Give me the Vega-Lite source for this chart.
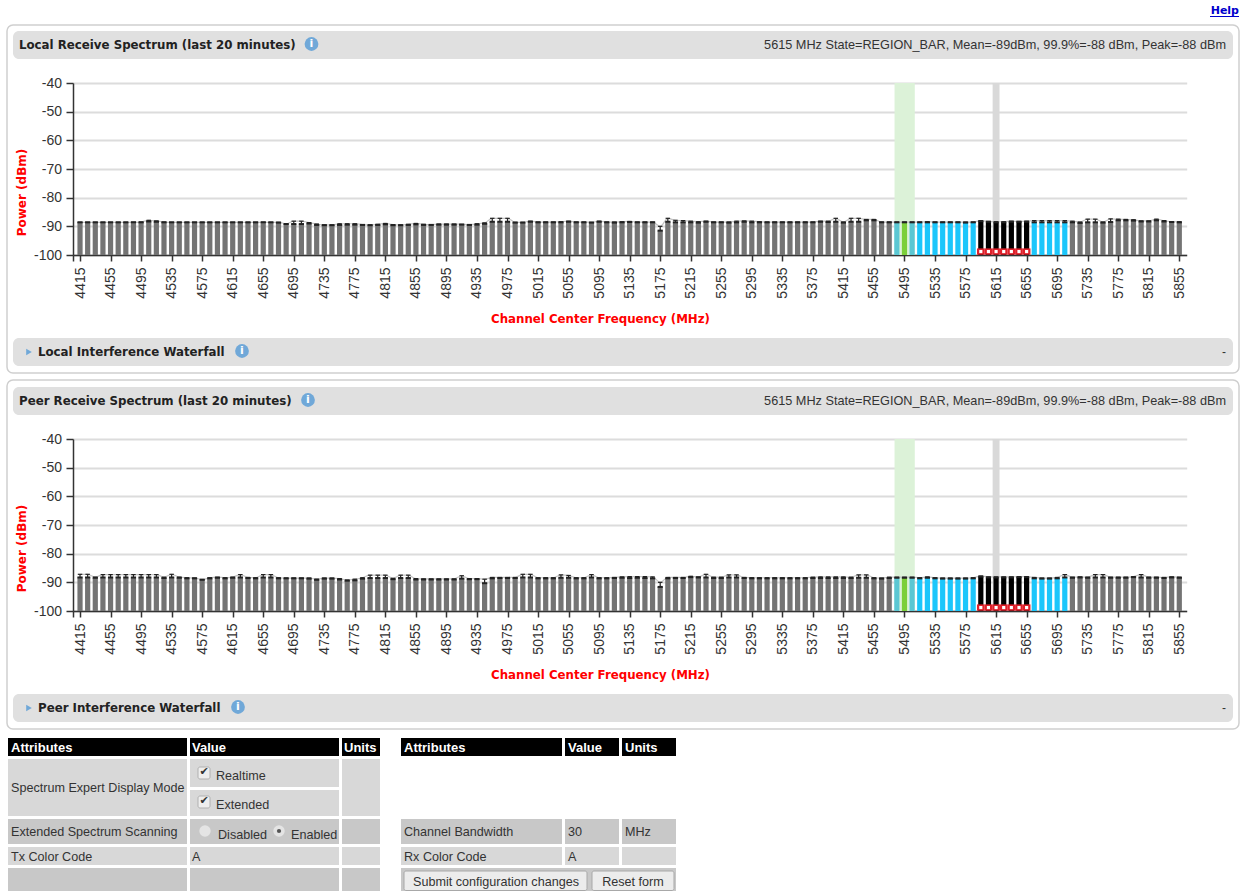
{"$schema":"https://vega.github.io/schema/vega-lite/v6.json","padding":{"left":6,"top":0,"right":2,"bottom":0},"background":"white","spacing":5,
"config":{"view":{"stroke":null},"concat":{"spacing":5}},
"datasets":{
"local":[{"f":4415,"m":-88.6,"p":-88.6},{"f":4425,"m":-88.6,"p":-88.6},{"f":4435,"m":-88.6,"p":-88.6},{"f":4445,"m":-88.6,"p":-88.6},{"f":4455,"m":-88.6,"p":-88.6},{"f":4465,"m":-88.6,"p":-88.6},{"f":4475,"m":-88.6,"p":-88.6},{"f":4485,"m":-88.6,"p":-88.6},{"f":4495,"m":-88.6,"p":-88.5},{"f":4505,"m":-88.3,"p":-87.9},{"f":4515,"m":-88.4,"p":-88.1},{"f":4525,"m":-88.6,"p":-88.5},{"f":4535,"m":-88.6,"p":-88.6},{"f":4545,"m":-88.6,"p":-88.6},{"f":4555,"m":-88.6,"p":-88.6},{"f":4565,"m":-88.6,"p":-88.6},{"f":4575,"m":-88.6,"p":-88.6},{"f":4585,"m":-88.6,"p":-88.6},{"f":4595,"m":-88.6,"p":-88.6},{"f":4605,"m":-88.6,"p":-88.6},{"f":4615,"m":-88.6,"p":-88.6},{"f":4625,"m":-88.6,"p":-88.6},{"f":4635,"m":-88.6,"p":-88.6},{"f":4645,"m":-88.6,"p":-88.6},{"f":4655,"m":-88.6,"p":-88.6},{"f":4665,"m":-88.6,"p":-88.6},{"f":4675,"m":-88.7,"p":-88.6},{"f":4685,"m":-89.2,"p":-89.1},{"f":4695,"m":-89.2,"p":-88.2},{"f":4705,"m":-89.2,"p":-88.2},{"f":4715,"m":-89,"p":-88.7},{"f":4725,"m":-89.5,"p":-89.2},{"f":4735,"m":-89.6,"p":-89.5},{"f":4745,"m":-89.6,"p":-89.5},{"f":4755,"m":-89.5,"p":-89.1},{"f":4765,"m":-89.4,"p":-89.1},{"f":4775,"m":-89.4,"p":-89.1},{"f":4785,"m":-89.5,"p":-89.4},{"f":4795,"m":-89.6,"p":-89.5},{"f":4805,"m":-89.5,"p":-89.3},{"f":4815,"m":-89.3,"p":-89},{"f":4825,"m":-89.6,"p":-89.4},{"f":4835,"m":-89.6,"p":-89.5},{"f":4845,"m":-89.5,"p":-89.3},{"f":4855,"m":-89.3,"p":-89},{"f":4865,"m":-89.5,"p":-89.3},{"f":4875,"m":-89.5,"p":-89.4},{"f":4885,"m":-89.4,"p":-89.2},{"f":4895,"m":-89.4,"p":-89.2},{"f":4905,"m":-89.4,"p":-89.2},{"f":4915,"m":-89.4,"p":-89.3},{"f":4925,"m":-89.5,"p":-89.4},{"f":4935,"m":-89.4,"p":-89.1},{"f":4945,"m":-89.1,"p":-88.8},{"f":4955,"m":-88.4,"p":-87.2},{"f":4965,"m":-88.4,"p":-87.2},{"f":4975,"m":-88.4,"p":-87.2},{"f":4985,"m":-88.7,"p":-88.6},{"f":4995,"m":-88.7,"p":-88.6},{"f":5005,"m":-88.4,"p":-88.2},{"f":5015,"m":-88.6,"p":-88.5},{"f":5025,"m":-88.6,"p":-88.5},{"f":5035,"m":-88.6,"p":-88.5},{"f":5045,"m":-88.6,"p":-88.4},{"f":5055,"m":-88.4,"p":-88.2},{"f":5065,"m":-88.6,"p":-88.5},{"f":5075,"m":-88.6,"p":-88.5},{"f":5085,"m":-88.7,"p":-88.6},{"f":5095,"m":-88.4,"p":-88.2},{"f":5105,"m":-88.6,"p":-88.5},{"f":5115,"m":-88.7,"p":-88.5},{"f":5125,"m":-88.6,"p":-88.4},{"f":5135,"m":-88.5,"p":-88.3},{"f":5145,"m":-88.6,"p":-88.5},{"f":5155,"m":-88.6,"p":-88.5},{"f":5165,"m":-88.6,"p":-88.5},{"f":5175,"m":-91.5,"p":-90},{"f":5185,"m":-88.4,"p":-87.2},{"f":5195,"m":-88.6,"p":-87.9},{"f":5205,"m":-88.6,"p":-88},{"f":5215,"m":-88.6,"p":-88.2},{"f":5225,"m":-88.7,"p":-88.4},{"f":5235,"m":-88.4,"p":-88.2},{"f":5245,"m":-88.6,"p":-88.5},{"f":5255,"m":-88.6,"p":-88.5},{"f":5265,"m":-88.7,"p":-88.5},{"f":5275,"m":-88.6,"p":-88.2},{"f":5285,"m":-88.4,"p":-88.1},{"f":5295,"m":-88.6,"p":-88.2},{"f":5305,"m":-88.6,"p":-88.4},{"f":5315,"m":-88.6,"p":-88.5},{"f":5325,"m":-88.6,"p":-88.5},{"f":5335,"m":-88.6,"p":-88.5},{"f":5345,"m":-88.6,"p":-88.5},{"f":5355,"m":-88.6,"p":-88.5},{"f":5365,"m":-88.6,"p":-88.5},{"f":5375,"m":-88.6,"p":-88.5},{"f":5385,"m":-88.4,"p":-88.2},{"f":5395,"m":-88.5,"p":-88.2},{"f":5405,"m":-88.4,"p":-87.2},{"f":5415,"m":-88.7,"p":-88.5},{"f":5425,"m":-88.4,"p":-87.2},{"f":5435,"m":-88.4,"p":-87.2},{"f":5445,"m":-87.9,"p":-87.6},{"f":5455,"m":-87.9,"p":-87.6},{"f":5465,"m":-88.6,"p":-88.5},{"f":5475,"m":-88.6,"p":-88.5},{"f":5485,"m":-88.6,"p":-88.5},{"f":5495,"m":-88.6,"p":-88.5},{"f":5505,"m":-88.6,"p":-88.5},{"f":5515,"m":-88.6,"p":-88.5},{"f":5525,"m":-88.6,"p":-88.4},{"f":5535,"m":-88.6,"p":-88.5},{"f":5545,"m":-88.6,"p":-88.5},{"f":5555,"m":-88.6,"p":-88.5},{"f":5565,"m":-88.6,"p":-88.5},{"f":5575,"m":-88.7,"p":-88.5},{"f":5585,"m":-88.6,"p":-88.5},{"f":5595,"m":-88.2,"p":-88},{"f":5605,"m":-88.4,"p":-88.3},{"f":5615,"m":-88.6,"p":-88.4},{"f":5625,"m":-88.6,"p":-88.4},{"f":5635,"m":-88.4,"p":-88.2},{"f":5645,"m":-88.4,"p":-88.3},{"f":5655,"m":-88.4,"p":-88.2},{"f":5665,"m":-88.6,"p":-88},{"f":5675,"m":-88.6,"p":-88},{"f":5685,"m":-88.6,"p":-88},{"f":5695,"m":-88.6,"p":-88},{"f":5705,"m":-88.6,"p":-88},{"f":5715,"m":-88.6,"p":-88.2},{"f":5725,"m":-88.8,"p":-88.5},{"f":5735,"m":-88.6,"p":-87.5},{"f":5745,"m":-88.6,"p":-87.5},{"f":5755,"m":-88.7,"p":-88.5},{"f":5765,"m":-88.5,"p":-87.4},{"f":5775,"m":-87.9,"p":-87.5},{"f":5785,"m":-87.9,"p":-87.6},{"f":5795,"m":-88,"p":-87.7},{"f":5805,"m":-88.3,"p":-88.1},{"f":5815,"m":-88.3,"p":-88.1},{"f":5825,"m":-87.9,"p":-87.5},{"f":5835,"m":-88.3,"p":-88},{"f":5845,"m":-88.5,"p":-88.4},{"f":5855,"m":-88.6,"p":-88.4}],
"peer":[{"f":4415,"m":-88.3,"p":-87.2},{"f":4425,"m":-88.3,"p":-87.2},{"f":4435,"m":-88.4,"p":-88.2},{"f":4445,"m":-88.3,"p":-87.3},{"f":4455,"m":-88.3,"p":-87.3},{"f":4465,"m":-88.3,"p":-87.3},{"f":4475,"m":-88.3,"p":-87.3},{"f":4485,"m":-88.3,"p":-87.3},{"f":4495,"m":-88.3,"p":-87.3},{"f":4505,"m":-88.3,"p":-87.3},{"f":4515,"m":-88.3,"p":-87.3},{"f":4525,"m":-88.5,"p":-88.2},{"f":4535,"m":-88.3,"p":-87.2},{"f":4545,"m":-88.4,"p":-88.2},{"f":4555,"m":-88.6,"p":-88.4},{"f":4565,"m":-88.6,"p":-88.5},{"f":4575,"m":-89.1,"p":-89},{"f":4585,"m":-88.6,"p":-88.4},{"f":4595,"m":-88.4,"p":-88.2},{"f":4605,"m":-88.6,"p":-88.4},{"f":4615,"m":-88.4,"p":-88.2},{"f":4625,"m":-88.3,"p":-87.3},{"f":4635,"m":-88.5,"p":-88.3},{"f":4645,"m":-88.6,"p":-88.4},{"f":4655,"m":-88.3,"p":-87.3},{"f":4665,"m":-88.3,"p":-87.3},{"f":4675,"m":-88.6,"p":-88.4},{"f":4685,"m":-88.6,"p":-88.5},{"f":4695,"m":-88.6,"p":-88.5},{"f":4705,"m":-88.6,"p":-88.5},{"f":4715,"m":-88.7,"p":-88.5},{"f":4725,"m":-89.1,"p":-88.9},{"f":4735,"m":-88.7,"p":-88.5},{"f":4745,"m":-88.7,"p":-88.5},{"f":4755,"m":-89,"p":-88.7},{"f":4765,"m":-89.4,"p":-89.2},{"f":4775,"m":-89.3,"p":-88.9},{"f":4785,"m":-88.7,"p":-88.4},{"f":4795,"m":-88.5,"p":-87.5},{"f":4805,"m":-88.5,"p":-87.5},{"f":4815,"m":-88.5,"p":-87.5},{"f":4825,"m":-88.9,"p":-88.6},{"f":4835,"m":-88.5,"p":-87.5},{"f":4845,"m":-88.5,"p":-87.5},{"f":4855,"m":-89,"p":-88.7},{"f":4865,"m":-89,"p":-88.8},{"f":4875,"m":-89,"p":-88.8},{"f":4885,"m":-89,"p":-88.8},{"f":4895,"m":-89,"p":-88.8},{"f":4905,"m":-89,"p":-88.8},{"f":4915,"m":-88.7,"p":-87.7},{"f":4925,"m":-88.9,"p":-88.7},{"f":4935,"m":-88.9,"p":-88.7},{"f":4945,"m":-90.3,"p":-88.9},{"f":4955,"m":-88.6,"p":-88.3},{"f":4965,"m":-88.5,"p":-88.3},{"f":4975,"m":-88.5,"p":-88.3},{"f":4985,"m":-88.5,"p":-88.3},{"f":4995,"m":-88.3,"p":-87.2},{"f":5005,"m":-88.3,"p":-87.2},{"f":5015,"m":-88.6,"p":-88.4},{"f":5025,"m":-88.6,"p":-88.4},{"f":5035,"m":-88.6,"p":-88.4},{"f":5045,"m":-88.4,"p":-87.4},{"f":5055,"m":-88.4,"p":-87.6},{"f":5065,"m":-88.6,"p":-88.4},{"f":5075,"m":-88.6,"p":-88.4},{"f":5085,"m":-88.3,"p":-87.3},{"f":5095,"m":-88.6,"p":-88.4},{"f":5105,"m":-88.6,"p":-88.4},{"f":5115,"m":-88.5,"p":-88.3},{"f":5125,"m":-88.4,"p":-88.1},{"f":5135,"m":-88.5,"p":-88},{"f":5145,"m":-88.4,"p":-88},{"f":5155,"m":-88.5,"p":-88},{"f":5165,"m":-88.6,"p":-88.1},{"f":5175,"m":-91.6,"p":-90},{"f":5185,"m":-88.6,"p":-88.3},{"f":5195,"m":-88.5,"p":-88.3},{"f":5205,"m":-88.5,"p":-88.3},{"f":5215,"m":-88.2,"p":-87.9},{"f":5225,"m":-88.3,"p":-88.1},{"f":5235,"m":-88.3,"p":-87.2},{"f":5245,"m":-88.5,"p":-88.2},{"f":5255,"m":-88.5,"p":-88.2},{"f":5265,"m":-88.3,"p":-87.4},{"f":5275,"m":-88.3,"p":-87.4},{"f":5285,"m":-88.5,"p":-88.3},{"f":5295,"m":-88.6,"p":-88.4},{"f":5305,"m":-88.6,"p":-88.4},{"f":5315,"m":-88.6,"p":-88.4},{"f":5325,"m":-88.6,"p":-88.4},{"f":5335,"m":-88.6,"p":-88.4},{"f":5345,"m":-88.6,"p":-88.4},{"f":5355,"m":-88.6,"p":-88.4},{"f":5365,"m":-88.6,"p":-88.4},{"f":5375,"m":-88.5,"p":-88.2},{"f":5385,"m":-88.5,"p":-88.1},{"f":5395,"m":-88.5,"p":-88.1},{"f":5405,"m":-88.5,"p":-88.1},{"f":5415,"m":-88.5,"p":-88.1},{"f":5425,"m":-88.5,"p":-88.2},{"f":5435,"m":-88.4,"p":-87.4},{"f":5445,"m":-88.4,"p":-87.4},{"f":5455,"m":-88.6,"p":-88.4},{"f":5465,"m":-88.7,"p":-88.5},{"f":5475,"m":-88.5,"p":-88.2},{"f":5485,"m":-88.4,"p":-88.2},{"f":5495,"m":-88.4,"p":-88.2},{"f":5505,"m":-88.4,"p":-88.2},{"f":5515,"m":-88.6,"p":-88.4},{"f":5525,"m":-88.4,"p":-88.1},{"f":5535,"m":-88.6,"p":-88.4},{"f":5545,"m":-88.7,"p":-88.5},{"f":5555,"m":-88.7,"p":-88.5},{"f":5565,"m":-88.7,"p":-88.5},{"f":5575,"m":-88.7,"p":-88.5},{"f":5585,"m":-88.6,"p":-88.4},{"f":5595,"m":-88,"p":-87.8},{"f":5605,"m":-88.3,"p":-88.1},{"f":5615,"m":-88.3,"p":-88.1},{"f":5625,"m":-88.3,"p":-88.1},{"f":5635,"m":-88.3,"p":-88.1},{"f":5645,"m":-88.2,"p":-88},{"f":5655,"m":-88.2,"p":-88},{"f":5665,"m":-88.6,"p":-88.3},{"f":5675,"m":-88.7,"p":-88.5},{"f":5685,"m":-88.7,"p":-88.5},{"f":5695,"m":-88.6,"p":-88.3},{"f":5705,"m":-88.3,"p":-87.3},{"f":5715,"m":-88.4,"p":-88.2},{"f":5725,"m":-88.3,"p":-88.1},{"f":5735,"m":-88.4,"p":-88.2},{"f":5745,"m":-88.3,"p":-87.3},{"f":5755,"m":-88.3,"p":-87.3},{"f":5765,"m":-88.4,"p":-88.2},{"f":5775,"m":-88.4,"p":-88.2},{"f":5785,"m":-88.4,"p":-88.2},{"f":5795,"m":-88.2,"p":-88},{"f":5805,"m":-88.3,"p":-87.3},{"f":5815,"m":-88.4,"p":-88.2},{"f":5825,"m":-88.4,"p":-88.2},{"f":5835,"m":-88.5,"p":-88.3},{"f":5845,"m":-88.3,"p":-88.1},{"f":5855,"m":-88.4,"p":-88.2}]},
"vconcat":[
{"width":1232,"height":19,"data":{"values":[{}]},"layer":[
{"mark":{"type":"text","text":"Help","align":"right","baseline":"middle","font":"DejaVu Sans","fontWeight":"bold","fontSize":11,"fill":"#0000cc"},"encoding":{"x":{"datum":1239,"type":"quantitative","axis":null,"scale":{"domain":[7,1239],"range":[0,1232],"nice":false,"zero":false}},"y":{"datum":11,"type":"quantitative","axis":null,"scale":{"domain":[0,19],"range":[0,19],"nice":false,"zero":false}}}},
{"mark":{"type":"rule","color":"#0000cc","strokeWidth":1},"encoding":{"x":{"datum":1210,"type":"quantitative","axis":null},"x2":{"datum":1239},"y":{"datum":16.5,"type":"quantitative","axis":null}}}
]},
{"width":1232,"height":348,"view":{"stroke":"#cfcfcf","cornerRadius":6,"strokeWidth":1.5},"resolve":{"scale":{"x":"independent","y":"independent"}},"layer":[
{"data":{"values":[{}]},"layer":[
{"mark":{"type":"rect","fill":"#e0e0e0","cornerRadius":6},"encoding":{"x":{"datum":13,"type":"quantitative","axis":null,"scale":{"domain":[7,1239],"range":[0,1232],"nice":false,"zero":false}},"x2":{"datum":1233},"y":{"datum":31,"type":"quantitative","axis":null,"scale":{"domain":[25,373],"range":[0,348],"nice":false,"zero":false}},"y2":{"datum":59}}},
{"mark":{"type":"rect","fill":"#e0e0e0","cornerRadius":6},"encoding":{"x":{"datum":13,"type":"quantitative","axis":null},"x2":{"datum":1233},"y":{"datum":338,"type":"quantitative","axis":null},"y2":{"datum":366}}},
{"mark":{"type":"text","text":"Local Receive Spectrum (last 20 minutes)","align":"left","baseline":"middle","font":"DejaVu Sans","fontWeight":"bold","fontSize":11.8,"fill":"#222222"},"encoding":{"x":{"datum":19,"type":"quantitative","axis":null},"y":{"datum":45,"type":"quantitative","axis":null}}},
{"mark":{"type":"text","text":"5615 MHz State=REGION_BAR, Mean=-89dBm, 99.9%=-88 dBm, Peak=-88 dBm","align":"right","baseline":"middle","font":"Liberation Sans","fontSize":12.7,"fill":"#333333"},"encoding":{"x":{"datum":1226,"type":"quantitative","axis":null},"y":{"datum":45,"type":"quantitative","axis":null}}},
{"mark":{"type":"point","shape":"circle","filled":true,"size":190,"color":"#70a8d8","opacity":1},"encoding":{"x":{"datum":311.5,"type":"quantitative","axis":null},"y":{"datum":44,"type":"quantitative","axis":null}}},
{"mark":{"type":"text","text":"i","align":"center","baseline":"middle","font":"DejaVu Sans","fontWeight":"bold","fontSize":11,"fill":"white"},"encoding":{"x":{"datum":311.5,"type":"quantitative","axis":null},"y":{"datum":44,"type":"quantitative","axis":null}}},
{"mark":{"type":"point","shape":"triangle-right","filled":true,"size":42,"color":"#70a8d8","opacity":1},"encoding":{"x":{"datum":29,"type":"quantitative","axis":null},"y":{"datum":352,"type":"quantitative","axis":null}}},
{"mark":{"type":"text","text":"Local Interference Waterfall","align":"left","baseline":"middle","font":"DejaVu Sans","fontWeight":"bold","fontSize":11.8,"fill":"#222222"},"encoding":{"x":{"datum":38,"type":"quantitative","axis":null},"y":{"datum":352,"type":"quantitative","axis":null}}},
{"mark":{"type":"point","shape":"circle","filled":true,"size":190,"color":"#70a8d8","opacity":1},"encoding":{"x":{"datum":242,"type":"quantitative","axis":null},"y":{"datum":351,"type":"quantitative","axis":null}}},
{"mark":{"type":"text","text":"i","align":"center","baseline":"middle","font":"DejaVu Sans","fontWeight":"bold","fontSize":11,"fill":"white"},"encoding":{"x":{"datum":242,"type":"quantitative","axis":null},"y":{"datum":351,"type":"quantitative","axis":null}}},
{"mark":{"type":"text","text":"-","align":"right","baseline":"middle","font":"Liberation Sans","fontSize":12,"fill":"#333333"},"encoding":{"x":{"datum":1226,"type":"quantitative","axis":null},"y":{"datum":352,"type":"quantitative","axis":null}}}
]},
{"data":{"name":"local"},"encoding":{"x":{"field":"f","type":"quantitative","scale":{"domain":[4405.8,5864.7],"range":[66,1179.7],"padding":0},"axis":{"values":[4405.8,4415,4455,4495,4535,4575,4615,4655,4695,4735,4775,4815,4855,4895,4935,4975,5015,5055,5095,5135,5175,5215,5255,5295,5335,5375,5415,5455,5495,5535,5575,5615,5655,5695,5735,5775,5815,5855],"labelExpr":"datum.value<4410?'':''+datum.value","offset":-118,"labelAngle":-90,"labelAlign":"right","labelBaseline":"middle","labelOverlap":false,"labelFlush":false,"labelFont":"Liberation Sans","labelFontSize":14,"labelColor":"#333333","labelPadding":6,"tickSize":6,"tickColor":"#333333","tickWidth":1.5,"domainColor":"#333333","domainWidth":1.5,"grid":false,"title":"Channel Center Frequency (MHz)","titleColor":"#ff0000","titleFont":"DejaVu Sans","titleFontWeight":"bold","titleFontSize":11.8,"titleX":593,"titleY":63,"titleAlign":"center","titleBaseline":"middle"}},"y":{"field":"m","type":"quantitative","scale":{"domain":[-100,-40],"range":[230,58]},"axis":{"values":[-100,-90,-80,-70,-60,-50,-40],"labelExpr":"''+datum.value","offset":-66,"labelFont":"Liberation Sans","labelFontSize":14,"labelColor":"#333333","labelPadding":4.5,"tickSize":7,"tickColor":"#333333","tickWidth":1.5,"domainColor":"#333333","domainWidth":1.5,"grid":true,"gridColor":"#dcdcdc","gridWidth":2,"title":"Power (dBm)","titleColor":"#ff0000","titleFont":"DejaVu Sans","titleFontWeight":"bold","titleFontSize":12,"titleX":-52,"titleY":167,"titleAlign":"center","titleBaseline":"middle"}}},"layer":[
{"transform":[{"filter":"datum.f==5495"}],"mark":{"type":"rect","fill":"#dcf2d8"},"encoding":{"x":{"datum":5482,"type":"quantitative"},"x2":{"datum":5508.5},"y":{"datum":-40,"type":"quantitative"},"y2":{"datum":-100}}},
{"transform":[{"filter":"datum.f==5615"}],"mark":{"type":"rect","fill":"#d9d9d9"},"encoding":{"x":{"datum":5610.5,"type":"quantitative"},"x2":{"datum":5619.5},"y":{"datum":-40,"type":"quantitative"},"y2":{"datum":-100}}},
{"mark":{"type":"line","color":"#c4c4c4","strokeWidth":1.2,"interpolate":"monotone"},"encoding":{"y":{"field":"p","type":"quantitative"}}},
{"mark":{"type":"bar","width":5.2},"encoding":{"y2":{"datum":-100},"color":{"field":"f","type":"quantitative","legend":null,"scale":{"type":"threshold","domain":[5480,5490,5500,5510,5590,5660,5710],"range":["#747474","#5bc7d3","#7ccf3a","#5bc7d3","#1cc6fb","#000000","#1cc6fb","#747474"]}}}},
{"transform":[{"filter":"datum.f>=5590&&datum.f<=5660"}],"mark":{"type":"bar","width":7.7,"color":"#e0202a"},"encoding":{"y":{"datum":-97.7,"type":"quantitative"},"y2":{"datum":-99.9}}},
{"transform":[{"filter":"datum.f>=5590&&datum.f<=5660"}],"mark":{"type":"point","shape":"square","filled":true,"size":10,"color":"white","opacity":1},"encoding":{"y":{"datum":-98.8,"type":"quantitative"}}},
{"mark":{"type":"rule","color":"#222222","strokeWidth":1.2},"encoding":{"y2":{"field":"p"}}},
{"mark":{"type":"tick","orient":"horizontal","size":4.5,"thickness":1.2,"color":"#222222","opacity":1},"encoding":{"y":{"field":"p","type":"quantitative"}}},
{"mark":{"type":"tick","orient":"horizontal","size":5.2,"thickness":2,"color":"#222222","opacity":1}}
]}]},
{"width":1232,"height":349,"view":{"stroke":"#cfcfcf","cornerRadius":6,"strokeWidth":1.5},"resolve":{"scale":{"x":"independent","y":"independent"}},"layer":[
{"data":{"values":[{}]},"layer":[
{"mark":{"type":"rect","fill":"#e0e0e0","cornerRadius":6},"encoding":{"x":{"datum":13,"type":"quantitative","axis":null,"scale":{"domain":[7,1239],"range":[0,1232],"nice":false,"zero":false}},"x2":{"datum":1233},"y":{"datum":387,"type":"quantitative","axis":null,"scale":{"domain":[380,729],"range":[0,349],"nice":false,"zero":false}},"y2":{"datum":415}}},
{"mark":{"type":"rect","fill":"#e0e0e0","cornerRadius":6},"encoding":{"x":{"datum":13,"type":"quantitative","axis":null},"x2":{"datum":1233},"y":{"datum":694,"type":"quantitative","axis":null},"y2":{"datum":722}}},
{"mark":{"type":"text","text":"Peer Receive Spectrum (last 20 minutes)","align":"left","baseline":"middle","font":"DejaVu Sans","fontWeight":"bold","fontSize":11.8,"fill":"#222222"},"encoding":{"x":{"datum":19,"type":"quantitative","axis":null},"y":{"datum":401,"type":"quantitative","axis":null}}},
{"mark":{"type":"text","text":"5615 MHz State=REGION_BAR, Mean=-89dBm, 99.9%=-88 dBm, Peak=-88 dBm","align":"right","baseline":"middle","font":"Liberation Sans","fontSize":12.7,"fill":"#333333"},"encoding":{"x":{"datum":1226,"type":"quantitative","axis":null},"y":{"datum":401,"type":"quantitative","axis":null}}},
{"mark":{"type":"point","shape":"circle","filled":true,"size":190,"color":"#70a8d8","opacity":1},"encoding":{"x":{"datum":308,"type":"quantitative","axis":null},"y":{"datum":400,"type":"quantitative","axis":null}}},
{"mark":{"type":"text","text":"i","align":"center","baseline":"middle","font":"DejaVu Sans","fontWeight":"bold","fontSize":11,"fill":"white"},"encoding":{"x":{"datum":308,"type":"quantitative","axis":null},"y":{"datum":400,"type":"quantitative","axis":null}}},
{"mark":{"type":"point","shape":"triangle-right","filled":true,"size":42,"color":"#70a8d8","opacity":1},"encoding":{"x":{"datum":29,"type":"quantitative","axis":null},"y":{"datum":708,"type":"quantitative","axis":null}}},
{"mark":{"type":"text","text":"Peer Interference Waterfall","align":"left","baseline":"middle","font":"DejaVu Sans","fontWeight":"bold","fontSize":11.8,"fill":"#222222"},"encoding":{"x":{"datum":38,"type":"quantitative","axis":null},"y":{"datum":708,"type":"quantitative","axis":null}}},
{"mark":{"type":"point","shape":"circle","filled":true,"size":190,"color":"#70a8d8","opacity":1},"encoding":{"x":{"datum":238,"type":"quantitative","axis":null},"y":{"datum":707,"type":"quantitative","axis":null}}},
{"mark":{"type":"text","text":"i","align":"center","baseline":"middle","font":"DejaVu Sans","fontWeight":"bold","fontSize":11,"fill":"white"},"encoding":{"x":{"datum":238,"type":"quantitative","axis":null},"y":{"datum":707,"type":"quantitative","axis":null}}},
{"mark":{"type":"text","text":"-","align":"right","baseline":"middle","font":"Liberation Sans","fontSize":12,"fill":"#333333"},"encoding":{"x":{"datum":1226,"type":"quantitative","axis":null},"y":{"datum":708,"type":"quantitative","axis":null}}}
]},
{"data":{"name":"peer"},"encoding":{"x":{"field":"f","type":"quantitative","scale":{"domain":[4405.8,5864.7],"range":[66,1179.7],"padding":0},"axis":{"values":[4405.8,4415,4455,4495,4535,4575,4615,4655,4695,4735,4775,4815,4855,4895,4935,4975,5015,5055,5095,5135,5175,5215,5255,5295,5335,5375,5415,5455,5495,5535,5575,5615,5655,5695,5735,5775,5815,5855],"labelExpr":"datum.value<4410?'':''+datum.value","offset":-118,"labelAngle":-90,"labelAlign":"right","labelBaseline":"middle","labelOverlap":false,"labelFlush":false,"labelFont":"Liberation Sans","labelFontSize":14,"labelColor":"#333333","labelPadding":6,"tickSize":6,"tickColor":"#333333","tickWidth":1.5,"domainColor":"#333333","domainWidth":1.5,"grid":false,"title":"Channel Center Frequency (MHz)","titleColor":"#ff0000","titleFont":"DejaVu Sans","titleFontWeight":"bold","titleFontSize":11.8,"titleX":593,"titleY":63,"titleAlign":"center","titleBaseline":"middle"}},"y":{"field":"m","type":"quantitative","scale":{"domain":[-100,-40],"range":[231,59]},"axis":{"values":[-100,-90,-80,-70,-60,-50,-40],"labelExpr":"''+datum.value","offset":-66,"labelFont":"Liberation Sans","labelFontSize":14,"labelColor":"#333333","labelPadding":4.5,"tickSize":7,"tickColor":"#333333","tickWidth":1.5,"domainColor":"#333333","domainWidth":1.5,"grid":true,"gridColor":"#dcdcdc","gridWidth":2,"title":"Power (dBm)","titleColor":"#ff0000","titleFont":"DejaVu Sans","titleFontWeight":"bold","titleFontSize":12,"titleX":-52,"titleY":168,"titleAlign":"center","titleBaseline":"middle"}}},"layer":[
{"transform":[{"filter":"datum.f==5495"}],"mark":{"type":"rect","fill":"#dcf2d8"},"encoding":{"x":{"datum":5482,"type":"quantitative"},"x2":{"datum":5508.5},"y":{"datum":-40,"type":"quantitative"},"y2":{"datum":-100}}},
{"transform":[{"filter":"datum.f==5615"}],"mark":{"type":"rect","fill":"#d9d9d9"},"encoding":{"x":{"datum":5610.5,"type":"quantitative"},"x2":{"datum":5619.5},"y":{"datum":-40,"type":"quantitative"},"y2":{"datum":-100}}},
{"mark":{"type":"line","color":"#c4c4c4","strokeWidth":1.2,"interpolate":"monotone"},"encoding":{"y":{"field":"p","type":"quantitative"}}},
{"mark":{"type":"bar","width":5.2},"encoding":{"y2":{"datum":-100},"color":{"field":"f","type":"quantitative","legend":null,"scale":{"type":"threshold","domain":[5480,5490,5500,5510,5590,5660,5710],"range":["#747474","#5bc7d3","#7ccf3a","#5bc7d3","#1cc6fb","#000000","#1cc6fb","#747474"]}}}},
{"transform":[{"filter":"datum.f>=5590&&datum.f<=5660"}],"mark":{"type":"bar","width":7.7,"color":"#e0202a"},"encoding":{"y":{"datum":-97.7,"type":"quantitative"},"y2":{"datum":-99.9}}},
{"transform":[{"filter":"datum.f>=5590&&datum.f<=5660"}],"mark":{"type":"point","shape":"square","filled":true,"size":10,"color":"white","opacity":1},"encoding":{"y":{"datum":-98.8,"type":"quantitative"}}},
{"mark":{"type":"rule","color":"#222222","strokeWidth":1.2},"encoding":{"y2":{"field":"p"}}},
{"mark":{"type":"tick","orient":"horizontal","size":4.5,"thickness":1.2,"color":"#222222","opacity":1},"encoding":{"y":{"field":"p","type":"quantitative"}}},
{"mark":{"type":"tick","orient":"horizontal","size":5.2,"thickness":2,"color":"#222222","opacity":1}}
]}]},
{"width":1232,"height":156,"data":{"values":[{}]},"layer":[
{"mark":{"type":"rect","fill":"#000000"},"encoding":{"x":{"datum":8,"type":"quantitative","axis":null,"scale":{"domain":[7,1239],"range":[0,1232],"nice":false,"zero":false}},"x2":{"datum":187},"y":{"datum":738,"type":"quantitative","axis":null,"scale":{"domain":[735,891],"range":[0,156],"nice":false,"zero":false}},"y2":{"datum":756}}},
{"mark":{"type":"rect","fill":"#000000"},"encoding":{"x":{"datum":190,"type":"quantitative","axis":null},"x2":{"datum":339},"y":{"datum":738,"type":"quantitative","axis":null},"y2":{"datum":756}}},
{"mark":{"type":"rect","fill":"#000000"},"encoding":{"x":{"datum":342,"type":"quantitative","axis":null},"x2":{"datum":380},"y":{"datum":738,"type":"quantitative","axis":null},"y2":{"datum":756}}},
{"mark":{"type":"rect","fill":"#000000"},"encoding":{"x":{"datum":401,"type":"quantitative","axis":null},"x2":{"datum":562},"y":{"datum":738,"type":"quantitative","axis":null},"y2":{"datum":756}}},
{"mark":{"type":"rect","fill":"#000000"},"encoding":{"x":{"datum":565,"type":"quantitative","axis":null},"x2":{"datum":619},"y":{"datum":738,"type":"quantitative","axis":null},"y2":{"datum":756}}},
{"mark":{"type":"rect","fill":"#000000"},"encoding":{"x":{"datum":622,"type":"quantitative","axis":null},"x2":{"datum":676},"y":{"datum":738,"type":"quantitative","axis":null},"y2":{"datum":756}}},
{"mark":{"type":"rect","fill":"#d8d8d8"},"encoding":{"x":{"datum":8,"type":"quantitative","axis":null},"x2":{"datum":187},"y":{"datum":759,"type":"quantitative","axis":null},"y2":{"datum":816}}},
{"mark":{"type":"rect","fill":"#d8d8d8"},"encoding":{"x":{"datum":190,"type":"quantitative","axis":null},"x2":{"datum":339},"y":{"datum":759,"type":"quantitative","axis":null},"y2":{"datum":787}}},
{"mark":{"type":"rect","fill":"#d8d8d8"},"encoding":{"x":{"datum":190,"type":"quantitative","axis":null},"x2":{"datum":339},"y":{"datum":790,"type":"quantitative","axis":null},"y2":{"datum":816}}},
{"mark":{"type":"rect","fill":"#d8d8d8"},"encoding":{"x":{"datum":342,"type":"quantitative","axis":null},"x2":{"datum":380},"y":{"datum":759,"type":"quantitative","axis":null},"y2":{"datum":816}}},
{"mark":{"type":"rect","fill":"#c8c8c8"},"encoding":{"x":{"datum":8,"type":"quantitative","axis":null},"x2":{"datum":187},"y":{"datum":819,"type":"quantitative","axis":null},"y2":{"datum":844}}},
{"mark":{"type":"rect","fill":"#c8c8c8"},"encoding":{"x":{"datum":190,"type":"quantitative","axis":null},"x2":{"datum":339},"y":{"datum":819,"type":"quantitative","axis":null},"y2":{"datum":844}}},
{"mark":{"type":"rect","fill":"#c8c8c8"},"encoding":{"x":{"datum":342,"type":"quantitative","axis":null},"x2":{"datum":380},"y":{"datum":819,"type":"quantitative","axis":null},"y2":{"datum":844}}},
{"mark":{"type":"rect","fill":"#c8c8c8"},"encoding":{"x":{"datum":401,"type":"quantitative","axis":null},"x2":{"datum":562},"y":{"datum":819,"type":"quantitative","axis":null},"y2":{"datum":844}}},
{"mark":{"type":"rect","fill":"#c8c8c8"},"encoding":{"x":{"datum":565,"type":"quantitative","axis":null},"x2":{"datum":619},"y":{"datum":819,"type":"quantitative","axis":null},"y2":{"datum":844}}},
{"mark":{"type":"rect","fill":"#c8c8c8"},"encoding":{"x":{"datum":622,"type":"quantitative","axis":null},"x2":{"datum":676},"y":{"datum":819,"type":"quantitative","axis":null},"y2":{"datum":844}}},
{"mark":{"type":"rect","fill":"#d8d8d8"},"encoding":{"x":{"datum":8,"type":"quantitative","axis":null},"x2":{"datum":187},"y":{"datum":847,"type":"quantitative","axis":null},"y2":{"datum":865}}},
{"mark":{"type":"rect","fill":"#d8d8d8"},"encoding":{"x":{"datum":190,"type":"quantitative","axis":null},"x2":{"datum":339},"y":{"datum":847,"type":"quantitative","axis":null},"y2":{"datum":865}}},
{"mark":{"type":"rect","fill":"#d8d8d8"},"encoding":{"x":{"datum":342,"type":"quantitative","axis":null},"x2":{"datum":380},"y":{"datum":847,"type":"quantitative","axis":null},"y2":{"datum":865}}},
{"mark":{"type":"rect","fill":"#d8d8d8"},"encoding":{"x":{"datum":401,"type":"quantitative","axis":null},"x2":{"datum":562},"y":{"datum":847,"type":"quantitative","axis":null},"y2":{"datum":865}}},
{"mark":{"type":"rect","fill":"#d8d8d8"},"encoding":{"x":{"datum":565,"type":"quantitative","axis":null},"x2":{"datum":619},"y":{"datum":847,"type":"quantitative","axis":null},"y2":{"datum":865}}},
{"mark":{"type":"rect","fill":"#d8d8d8"},"encoding":{"x":{"datum":622,"type":"quantitative","axis":null},"x2":{"datum":676},"y":{"datum":847,"type":"quantitative","axis":null},"y2":{"datum":865}}},
{"mark":{"type":"rect","fill":"#c8c8c8"},"encoding":{"x":{"datum":8,"type":"quantitative","axis":null},"x2":{"datum":187},"y":{"datum":868,"type":"quantitative","axis":null},"y2":{"datum":891}}},
{"mark":{"type":"rect","fill":"#c8c8c8"},"encoding":{"x":{"datum":190,"type":"quantitative","axis":null},"x2":{"datum":339},"y":{"datum":868,"type":"quantitative","axis":null},"y2":{"datum":891}}},
{"mark":{"type":"rect","fill":"#c8c8c8"},"encoding":{"x":{"datum":342,"type":"quantitative","axis":null},"x2":{"datum":380},"y":{"datum":868,"type":"quantitative","axis":null},"y2":{"datum":891}}},
{"mark":{"type":"rect","fill":"#c8c8c8"},"encoding":{"x":{"datum":401,"type":"quantitative","axis":null},"x2":{"datum":676},"y":{"datum":868,"type":"quantitative","axis":null},"y2":{"datum":891}}},
{"mark":{"type":"rect","fill":"#ececec","stroke":"#a8a8a8","cornerRadius":2},"encoding":{"x":{"datum":404,"type":"quantitative","axis":null},"x2":{"datum":587},"y":{"datum":871,"type":"quantitative","axis":null},"y2":{"datum":890.5}}},
{"mark":{"type":"rect","fill":"#ececec","stroke":"#a8a8a8","cornerRadius":2},"encoding":{"x":{"datum":592,"type":"quantitative","axis":null},"x2":{"datum":674},"y":{"datum":871,"type":"quantitative","axis":null},"y2":{"datum":890.5}}},
{"mark":{"type":"rect","fill":"#eeeeee","stroke":"#b0b0b0","cornerRadius":2},"encoding":{"x":{"datum":198,"type":"quantitative","axis":null},"x2":{"datum":210},"y":{"datum":767,"type":"quantitative","axis":null},"y2":{"datum":779}}},
{"mark":{"type":"rect","fill":"#eeeeee","stroke":"#b0b0b0","cornerRadius":2},"encoding":{"x":{"datum":198,"type":"quantitative","axis":null},"x2":{"datum":210},"y":{"datum":796,"type":"quantitative","axis":null},"y2":{"datum":808}}},
{"mark":{"type":"text","text":"✔","align":"center","baseline":"middle","font":"DejaVu Sans","fontSize":11,"fill":"#333333"},"encoding":{"x":{"datum":204,"type":"quantitative","axis":null},"y":{"datum":772,"type":"quantitative","axis":null}}},
{"mark":{"type":"text","text":"✔","align":"center","baseline":"middle","font":"DejaVu Sans","fontSize":11,"fill":"#333333"},"encoding":{"x":{"datum":204,"type":"quantitative","axis":null},"y":{"datum":801,"type":"quantitative","axis":null}}},
{"mark":{"type":"point","shape":"circle","filled":true,"size":130,"color":"#e4e4e4","opacity":1},"encoding":{"x":{"datum":205,"type":"quantitative","axis":null},"y":{"datum":831,"type":"quantitative","axis":null}}},
{"mark":{"type":"point","shape":"circle","filled":true,"size":130,"color":"#e4e4e4","opacity":1},"encoding":{"x":{"datum":279,"type":"quantitative","axis":null},"y":{"datum":831,"type":"quantitative","axis":null}}},
{"mark":{"type":"point","shape":"circle","filled":true,"size":18,"color":"#555555","opacity":1},"encoding":{"x":{"datum":279,"type":"quantitative","axis":null},"y":{"datum":831,"type":"quantitative","axis":null}}},
{"mark":{"type":"text","text":"Attributes","align":"left","baseline":"middle","font":"Liberation Sans","fontWeight":"bold","fontSize":13,"fill":"white"},"encoding":{"x":{"datum":11,"type":"quantitative","axis":null},"y":{"datum":748,"type":"quantitative","axis":null}}},
{"mark":{"type":"text","text":"Value","align":"left","baseline":"middle","font":"Liberation Sans","fontWeight":"bold","fontSize":13,"fill":"white"},"encoding":{"x":{"datum":192,"type":"quantitative","axis":null},"y":{"datum":748,"type":"quantitative","axis":null}}},
{"mark":{"type":"text","text":"Units","align":"left","baseline":"middle","font":"Liberation Sans","fontWeight":"bold","fontSize":13,"fill":"white"},"encoding":{"x":{"datum":344,"type":"quantitative","axis":null},"y":{"datum":748,"type":"quantitative","axis":null}}},
{"mark":{"type":"text","text":"Attributes","align":"left","baseline":"middle","font":"Liberation Sans","fontWeight":"bold","fontSize":13,"fill":"white"},"encoding":{"x":{"datum":404,"type":"quantitative","axis":null},"y":{"datum":748,"type":"quantitative","axis":null}}},
{"mark":{"type":"text","text":"Value","align":"left","baseline":"middle","font":"Liberation Sans","fontWeight":"bold","fontSize":13,"fill":"white"},"encoding":{"x":{"datum":568,"type":"quantitative","axis":null},"y":{"datum":748,"type":"quantitative","axis":null}}},
{"mark":{"type":"text","text":"Units","align":"left","baseline":"middle","font":"Liberation Sans","fontWeight":"bold","fontSize":13,"fill":"white"},"encoding":{"x":{"datum":625,"type":"quantitative","axis":null},"y":{"datum":748,"type":"quantitative","axis":null}}},
{"mark":{"type":"text","text":"Spectrum Expert Display Mode","align":"left","baseline":"middle","font":"Liberation Sans","fontSize":12.6,"fill":"#333333"},"encoding":{"x":{"datum":11,"type":"quantitative","axis":null},"y":{"datum":788,"type":"quantitative","axis":null}}},
{"mark":{"type":"text","text":"Realtime","align":"left","baseline":"middle","font":"Liberation Sans","fontSize":12.6,"fill":"#333333"},"encoding":{"x":{"datum":216,"type":"quantitative","axis":null},"y":{"datum":776,"type":"quantitative","axis":null}}},
{"mark":{"type":"text","text":"Extended","align":"left","baseline":"middle","font":"Liberation Sans","fontSize":12.6,"fill":"#333333"},"encoding":{"x":{"datum":216,"type":"quantitative","axis":null},"y":{"datum":805,"type":"quantitative","axis":null}}},
{"mark":{"type":"text","text":"Extended Spectrum Scanning","align":"left","baseline":"middle","font":"Liberation Sans","fontSize":12.6,"fill":"#333333"},"encoding":{"x":{"datum":11,"type":"quantitative","axis":null},"y":{"datum":832,"type":"quantitative","axis":null}}},
{"mark":{"type":"text","text":"Disabled","align":"left","baseline":"middle","font":"Liberation Sans","fontSize":12.6,"fill":"#333333"},"encoding":{"x":{"datum":218,"type":"quantitative","axis":null},"y":{"datum":835,"type":"quantitative","axis":null}}},
{"mark":{"type":"text","text":"Enabled","align":"left","baseline":"middle","font":"Liberation Sans","fontSize":12.6,"fill":"#333333"},"encoding":{"x":{"datum":291,"type":"quantitative","axis":null},"y":{"datum":835,"type":"quantitative","axis":null}}},
{"mark":{"type":"text","text":"Tx Color Code","align":"left","baseline":"middle","font":"Liberation Sans","fontSize":12.6,"fill":"#333333"},"encoding":{"x":{"datum":11,"type":"quantitative","axis":null},"y":{"datum":857,"type":"quantitative","axis":null}}},
{"mark":{"type":"text","text":"A","align":"left","baseline":"middle","font":"Liberation Sans","fontSize":12.6,"fill":"#333333"},"encoding":{"x":{"datum":192,"type":"quantitative","axis":null},"y":{"datum":857,"type":"quantitative","axis":null}}},
{"mark":{"type":"text","text":"Channel Bandwidth","align":"left","baseline":"middle","font":"Liberation Sans","fontSize":12.6,"fill":"#333333"},"encoding":{"x":{"datum":404,"type":"quantitative","axis":null},"y":{"datum":832,"type":"quantitative","axis":null}}},
{"mark":{"type":"text","text":"30","align":"left","baseline":"middle","font":"Liberation Sans","fontSize":12.6,"fill":"#333333"},"encoding":{"x":{"datum":568,"type":"quantitative","axis":null},"y":{"datum":832,"type":"quantitative","axis":null}}},
{"mark":{"type":"text","text":"MHz","align":"left","baseline":"middle","font":"Liberation Sans","fontSize":12.6,"fill":"#333333"},"encoding":{"x":{"datum":625,"type":"quantitative","axis":null},"y":{"datum":832,"type":"quantitative","axis":null}}},
{"mark":{"type":"text","text":"Rx Color Code","align":"left","baseline":"middle","font":"Liberation Sans","fontSize":12.6,"fill":"#333333"},"encoding":{"x":{"datum":404,"type":"quantitative","axis":null},"y":{"datum":857,"type":"quantitative","axis":null}}},
{"mark":{"type":"text","text":"A","align":"left","baseline":"middle","font":"Liberation Sans","fontSize":12.6,"fill":"#333333"},"encoding":{"x":{"datum":568,"type":"quantitative","axis":null},"y":{"datum":857,"type":"quantitative","axis":null}}},
{"mark":{"type":"text","text":"Submit configuration changes","align":"center","baseline":"middle","font":"Liberation Sans","fontSize":12.6,"fill":"#333333"},"encoding":{"x":{"datum":496,"type":"quantitative","axis":null},"y":{"datum":882,"type":"quantitative","axis":null}}},
{"mark":{"type":"text","text":"Reset form","align":"center","baseline":"middle","font":"Liberation Sans","fontSize":12.6,"fill":"#333333"},"encoding":{"x":{"datum":633,"type":"quantitative","axis":null},"y":{"datum":882,"type":"quantitative","axis":null}}}
]}
]}
